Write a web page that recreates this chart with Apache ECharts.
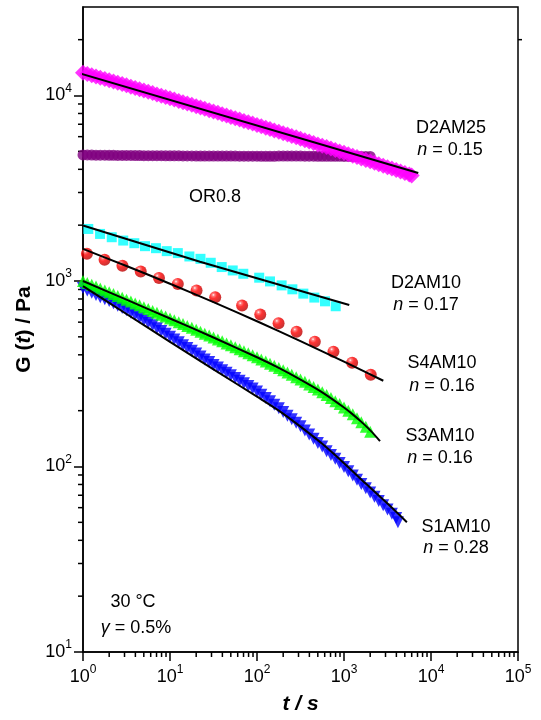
<!DOCTYPE html>
<html>
<head>
<meta charset="utf-8">
<script src="https://cdn.jsdelivr.net/npm/echarts@6/dist/echarts.min.js"></script>
<style>
  html, body { margin: 0; padding: 0; background: #fff; }
  #chart { width: 541px; height: 720px; }
</style>
</head>
<body>
<div id="chart"></div>
<script>
// time (s) of the densely sampled runs
const tDense = [1, 1.12, 1.26, 1.41, 1.58, 1.78, 2, 2.24, 2.51, 2.82, 3.16, 3.55, 3.98, 4.47, 5.01, 5.62, 6.31, 7.08, 7.94, 8.91,
  10, 11.2, 12.6, 14.1, 15.8, 17.8, 20, 22.4, 25.1, 28.2, 31.6, 35.5, 39.8, 44.7, 50.1, 56.2, 63.1, 70.8, 79.4, 89.1,
  100, 112, 126, 141, 158, 178, 200, 224, 251, 282, 316, 355, 398, 447, 501, 562, 631, 708, 794, 891,
  1000, 1120, 1260, 1410, 1580, 1780, 2000, 2240, 2510, 2820, 3160, 3550, 3980, 4470, 5010, 5620, 6000];

// G(t) / Pa
const gD2AM25 = [13270, 13070, 12870, 12670, 12470, 12280, 12090, 11900, 11710, 11530, 11340, 11160, 10990, 10820, 10640, 10470, 10310, 10140, 9980, 9820,
  9660, 9505, 9350, 9200, 9050, 8905, 8760, 8615, 8480, 8335, 8200, 8065, 7930, 7800, 7670, 7545, 7420, 7295, 7170, 7055,
  6930, 6820, 6710, 6590, 6480, 6370, 6260, 6155, 6050, 5950, 5850, 5745, 5650, 5550, 5450, 5360, 5270, 5175, 5085, 4995,
  4910, 4825, 4740, 4655, 4575, 4495, 4415, 4337, 4260, 4183, 4110, 4036, 3965, 3894, 3823, 3754, 3700];

const gOR08 = [4780, 4780, 4775, 4770, 4770, 4765, 4760, 4760, 4755, 4750, 4750, 4750, 4745, 4745, 4740, 4740, 4740, 4735, 4735, 4730,
  4730, 4730, 4730, 4725, 4725, 4725, 4720, 4720, 4720, 4720, 4720, 4720, 4720, 4715, 4715, 4715, 4710, 4710, 4710, 4710,
  4710, 4705, 4705, 4700, 4700, 4720, 4720, 4720, 4720, 4715, 4715, 4710, 4710, 4710, 4705, 4705, 4700, 4700, 4700, 4700,
  4695, 4695, 4690, 4690, 4690, 4690, 4690];

const gS3AM10 = [1000, 977, 955, 933, 912, 890, 871, 850, 831, 812, 793, 775, 757, 740, 723, 706, 690, 674, 658, 643,
  628, 614, 600, 586, 572, 559, 546, 533, 520, 508, 496, 484, 473, 461, 450, 439, 429, 418, 408, 398,
  388, 378, 368, 358, 349, 340, 330, 321, 312, 303, 294, 286, 277, 268, 260, 251, 243, 234, 225, 217,
  208, 200, 191, 182, 173, 164, 154];

const tS1AM10 = tDense.slice(0, 73).concat([4170]);
const gS1AM10 = [916, 890, 865, 840, 817, 798, 780, 758, 736, 715, 695, 675, 656, 635, 615, 596, 577, 557, 537, 519,
  501, 484, 468, 451, 436, 421, 406, 392, 378, 366, 353, 342, 330, 320, 310, 300, 290, 281, 272, 263,
  254, 244, 234, 225, 215, 206, 197, 188, 180, 172, 165, 156.5, 149, 141, 134, 128, 121, 115.5, 110, 104.6,
  99.5, 94.4, 89.5, 84.9, 80.5, 76.4, 72.4, 68.7, 65.2, 61.8, 58.6, 55.6, 52.7, 50];

const tD2AM10 = [1.15, 1.57, 2.14, 2.9, 3.89, 5.16, 6.9, 9.17, 12.3, 16.7,
  22.4, 29.4, 39.3, 52.6, 69.6, 106, 141, 192, 255, 341,
  456, 605, 803];
const gD2AM10 = [1908, 1794, 1722, 1652, 1599, 1541, 1503, 1449, 1414, 1356,
  1317, 1254, 1189, 1140, 1094, 1042, 995, 947, 902, 855,
  814, 777, 731];

const tS4AM10 = [1.11, 1.77, 2.84, 4.61, 7.47, 12.3, 20.2, 33.1, 67.4, 109,
  177, 285, 462, 756, 1240, 2030];
const gS4AM10 = [1402, 1300, 1208, 1126, 1038, 964, 890, 817, 737, 659,
  592, 532, 471, 416, 363, 312];

// fitted curves
const fitD2AM25T = [0.89, 7140];
const fitD2AM25G = [13220, 3825];
const fitD2AM10T = [1, 22.1, 1150];
const fitD2AM10G = [1993, 1270, 742];
const fitS4AM10T = [1, 3.16, 10, 31.6, 100, 316, 1000, 2830];
const fitS4AM10G = [1489, 1205, 967, 769, 607, 474, 368, 290];
const fitS3AM10T = [1, 3.16, 10, 31.6, 100, 178, 316, 562, 1000, 1259, 1585, 1995, 2594];
const fitS3AM10G = [1000, 793, 628, 496, 388, 340, 294, 251, 208, 191, 174, 157, 137];
const fitS1AM10T = [1, 3.16, 10, 31.6, 100, 178, 316, 562, 1000, 1778, 3162, 5280];
const fitS1AM10G = [938, 664, 470, 334, 238, 200, 164, 132.5, 104.2, 80.9, 63.1, 50.1];

// minor tick multipliers and decades
const minorMult = [2, 3, 4, 5, 6, 7, 8, 9];
const xDecades = [1, 10, 100, 1000, 10000];
const yDecades = [10, 100, 1000, 10000];

// text on the plot: [text, x, y]
const notes = [
  ['D2AM25', 451, 128], ['{i|n} = 0.15', 450, 150],
  ['OR0.8', 215, 197],
  ['D2AM10', 426, 283], ['{i|n} = 0.17', 426, 305],
  ['S4AM10', 442, 363], ['{i|n} = 0.16', 442, 386],
  ['S3AM10', 440, 436], ['{i|n} = 0.16', 440, 458],
  ['S1AM10', 456, 527], ['{i|n} = 0.28', 456, 548],
  ['30 °C', 133, 602], ['{i|γ} = 0.5%', 136, 628]
];

const FONT = '"Liberation Sans", Arial, sans-serif';
const zip = (a, b) => a.map((v, i) => [v, b[i]]);

const xMinor = [];
xDecades.forEach(d => minorMult.forEach(m => xMinor.push([d * m, 10])));
const yMinor = [];
yDecades.forEach(d => minorMult.forEach(m => { if (d * m < 30000) yMinor.push([1, d * m]); }));

function pow10Label(v) {
  const e = Math.round(Math.log10(v));
  if (Math.abs(Math.pow(10, e) - v) > 1e-6 * v) return '';
  return '{b|10}{s|' + e + '}';
}
const labelRich = {
  b: {fontSize: 18, fontFamily: FONT, color: '#000', lineHeight: 26},
  s: {fontSize: 12, fontFamily: FONT, color: '#000', verticalAlign: 'top', lineHeight: 12}
};
const axisCommon = {
  type: 'log',
  logBase: 10,
  axisLine: {show: true, lineStyle: {color: '#000', width: 1.5}},
  axisTick: {show: true, inside: false, length: 9, lineStyle: {color: '#000', width: 1.5}},
  minorTick: {show: false},
  splitLine: {show: false}
};

function tickItem(dx, dy) {
  return (params, api) => {
    const p = api.coord([api.value(0), api.value(1)]);
    return {
      type: 'line',
      shape: {x1: p[0], y1: p[1], x2: p[0] + dx, y2: p[1] + dy},
      style: {stroke: '#000', lineWidth: 1.5}
    };
  };
}

const fitLine = (t, g, extra) => Object.assign({
  type: 'line', showSymbol: false, silent: true,
  lineStyle: {color: '#000', width: 2},
  data: zip(t, g)
}, extra || {});

const chart = echarts.init(document.getElementById('chart'), null, {renderer: 'canvas'});

chart.setOption({
  animation: false,
  backgroundColor: '#fff',
  grid: {left: 83, right: 23, top: 7, bottom: 65, show: true, borderColor: '#000', borderWidth: 1.5},
  xAxis: Object.assign({}, axisCommon, {
    min: 1, max: 100000,
    axisLabel: {margin: 12, formatter: pow10Label, rich: labelRich},
    name: 't / s',
    nameLocation: 'middle',
    nameGap: 42,
    nameTextStyle: {fontSize: 21, fontWeight: 'bold', fontStyle: 'italic', fontFamily: FONT, color: '#000'}
  }),
  yAxis: Object.assign({}, axisCommon, {
    min: 10, max: 30000,
    axisLabel: {margin: 11, formatter: pow10Label, rich: labelRich, showMaxLabel: false},
    name: '{b|G (}{bi|t}{b|) / Pa}',
    nameLocation: 'middle',
    nameGap: 46,
    nameTextStyle: {
      rich: {
        b: {fontSize: 21, fontWeight: 'bold', fontFamily: FONT, color: '#000'},
        bi: {fontSize: 21, fontWeight: 'bold', fontStyle: 'italic', fontFamily: FONT, color: '#000'}
      }
    }
  }),
  series: [
    {type: 'custom', silent: true, clip: false, data: xMinor, renderItem: tickItem(0, 5)},
    {type: 'custom', silent: true, clip: false, data: yMinor, renderItem: tickItem(-5, 0)},
    {type: 'custom', silent: true, clip: false, data: [[100000, 20000]], renderItem: tickItem(4, 0)},
    {
      name: 'OR0.8', type: 'scatter', symbol: 'circle', symbolSize: 11,
      itemStyle: {color: '#800080'}, data: zip(tDense.slice(0, 67), gOR08)
    },
    {
      name: 'D2AM25', type: 'scatter', symbol: 'diamond', symbolSize: 16,
      itemStyle: {color: '#ff00ff'}, data: zip(tDense, gD2AM25)
    },
    {
      name: 'D2AM10', type: 'scatter', symbol: 'rect', symbolSize: 10,
      itemStyle: {color: '#00ffff'}, data: zip(tD2AM10, gD2AM10)
    },
    {
      name: 'S4AM10', type: 'scatter', symbol: 'circle', symbolSize: 12,
      itemStyle: {
        color: {
          type: 'radial', x: 0.35, y: 0.3, r: 0.75,
          colorStops: [
            {offset: 0, color: '#ffffff'},
            {offset: 0.15, color: '#ff6060'},
            {offset: 0.4, color: '#ff0000'},
            {offset: 1, color: '#b00000'}
          ]
        }
      },
      data: zip(tS4AM10, gS4AM10)
    },
    {
      name: 'S1AM10', type: 'scatter', symbol: 'triangle', symbolRotate: 180, symbolSize: 12,
      itemStyle: {color: '#0000ff'}, data: zip(tS1AM10, gS1AM10)
    },
    {
      name: 'S3AM10', type: 'scatter', symbol: 'triangle', symbolSize: 12,
      itemStyle: {color: '#00ff00'}, data: zip(tDense.slice(0, 67), gS3AM10)
    },
    fitLine(fitD2AM25T, fitD2AM25G, {clip: false}),
    fitLine(fitD2AM10T, fitD2AM10G),
    fitLine(fitS4AM10T, fitS4AM10G, {smooth: 0.3}),
    fitLine(fitS3AM10T, fitS3AM10G, {smooth: 0.3}),
    fitLine(fitS1AM10T, fitS1AM10G, {smooth: 0.3})
  ],
  graphic: notes.map(([text, x, y]) => ({
    type: 'text', x: x, y: y, silent: true,
    style: {
      text: text, fontSize: 18, fontFamily: FONT, fill: '#000',
      align: 'center', verticalAlign: 'middle',
      rich: {i: {fontSize: 18, fontFamily: FONT, fontStyle: 'italic', fill: '#000'}}
    }
  }))
});
</script>
</body>
</html>
